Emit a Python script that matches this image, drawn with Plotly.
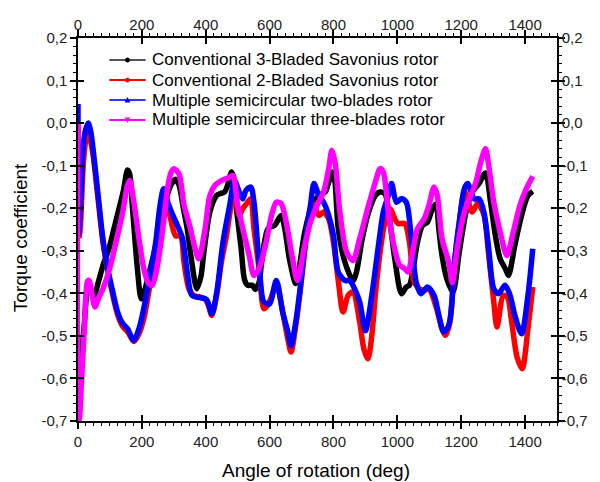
import plotly.graph_objects as go

# ---- data ----
black_x = [0, 2, 5, 10, 20, 27, 35, 50, 65, 80, 97, 112, 127, 142, 155, 162, 170, 186, 198, 210, 220, 240, 260, 281, 291, 305, 316, 330, 342, 355, 372, 385, 393, 413, 434, 444, 459, 470, 481, 488, 495, 511, 521, 531, 546, 555, 567, 575, 595, 616, 636, 648, 662, 682, 695, 708, 733, 754, 774, 785, 798, 805, 815, 836, 861, 872, 890, 910, 931, 946, 961, 977, 992, 1013, 1028, 1038, 1048, 1063, 1079, 1094, 1110, 1121, 1130, 1140, 1155, 1174, 1194, 1215, 1235, 1256, 1276, 1292, 1307, 1322, 1338, 1348, 1368, 1389, 1409, 1424]
black_y = [-0.70, -0.70, -0.63, -0.56, -0.47, -0.405, -0.385, -0.405, -0.37, -0.33, -0.295, -0.25, -0.205, -0.16, -0.11, -0.12, -0.193, -0.342, -0.413, -0.39, -0.36, -0.30, -0.23, -0.166, -0.146, -0.132, -0.145, -0.20, -0.248, -0.32, -0.389, -0.36, -0.311, -0.209, -0.17, -0.166, -0.162, -0.142, -0.115, -0.13, -0.193, -0.295, -0.366, -0.381, -0.381, -0.391, -0.374, -0.327, -0.248, -0.24, -0.217, -0.25, -0.319, -0.377, -0.33, -0.264, -0.193, -0.17, -0.162, -0.139, -0.115, -0.14, -0.248, -0.327, -0.370, -0.35, -0.272, -0.209, -0.17, -0.162, -0.166, -0.233, -0.319, -0.401, -0.385, -0.381, -0.35, -0.28, -0.24, -0.233, -0.201, -0.19, -0.25, -0.311, -0.366, -0.397, -0.303, -0.209, -0.162, -0.142, -0.117, -0.186, -0.264, -0.319, -0.342, -0.358, -0.287, -0.217, -0.17, -0.16]

red_x = [3, 7, 12, 17, 25, 30, 40, 48, 63, 78, 94, 109, 124, 140, 155, 165, 175, 191, 206, 221, 242, 257, 270, 277, 287, 296, 306, 321, 332, 347, 362, 383, 398, 408, 419, 434, 449, 465, 480, 490, 505, 516, 531, 541, 551, 567, 582, 592, 605, 621, 641, 657, 667, 682, 698, 713, 728, 738, 754, 769, 785, 800, 815, 830, 846, 861, 882, 895, 908, 920, 931, 946, 961, 977, 992, 1002, 1023, 1038, 1053, 1069, 1084, 1099, 1120, 1140, 1150, 1164, 1179, 1194, 1210, 1220, 1235, 1251, 1271, 1286, 1302, 1312, 1332, 1345, 1358, 1375, 1391, 1409, 1424]
red_y = [-0.27, -0.25, -0.17, -0.092, -0.037, -0.025, -0.045, -0.08, -0.18, -0.28, -0.35, -0.405, -0.45, -0.478, -0.49, -0.503, -0.513, -0.495, -0.46, -0.40, -0.31, -0.235, -0.20, -0.197, -0.215, -0.245, -0.265, -0.265, -0.327, -0.389, -0.405, -0.409, -0.413, -0.428, -0.452, -0.405, -0.327, -0.264, -0.193, -0.17, -0.217, -0.201, -0.186, -0.178, -0.248, -0.342, -0.436, -0.43, -0.41, -0.375, -0.444, -0.507, -0.538, -0.475, -0.38, -0.28, -0.20, -0.19, -0.217, -0.209, -0.225, -0.28, -0.37, -0.444, -0.405, -0.397, -0.467, -0.53, -0.554, -0.50, -0.405, -0.303, -0.233, -0.201, -0.225, -0.236, -0.236, -0.28, -0.374, -0.389, -0.393, -0.39, -0.428, -0.483, -0.499, -0.47, -0.33, -0.233, -0.16, -0.18, -0.209, -0.189, -0.215, -0.31, -0.42, -0.479, -0.405, -0.41, -0.467, -0.55, -0.577, -0.483, -0.385]

blue_x = [0, 2, 9, 15, 22, 32, 40, 47, 63, 78, 93, 109, 124, 140, 155, 165, 175, 191, 206, 221, 242, 257, 268, 283, 296, 311, 327, 342, 357, 383, 403, 419, 434, 454, 475, 490, 505, 516, 526, 541, 551, 567, 582, 600, 621, 641, 657, 667, 682, 698, 713, 728, 739, 754, 769, 785, 800, 815, 836, 851, 866, 882, 900, 920, 941, 956, 972, 982, 997, 1013, 1028, 1043, 1059, 1074, 1094, 1115, 1130, 1145, 1161, 1170, 1179, 1194, 1210, 1220, 1241, 1256, 1271, 1286, 1302, 1317, 1337, 1353, 1368, 1389, 1409, 1424]
blue_y = [0.045, -0.26, -0.17, -0.068, -0.021, 0.0, -0.02, -0.06, -0.17, -0.272, -0.342, -0.397, -0.444, -0.471, -0.483, -0.499, -0.511, -0.483, -0.436, -0.374, -0.287, -0.193, -0.154, -0.19, -0.215, -0.24, -0.27, -0.35, -0.405, -0.41, -0.415, -0.448, -0.40, -0.28, -0.193, -0.135, -0.162, -0.178, -0.158, -0.15, -0.186, -0.327, -0.42, -0.425, -0.37, -0.444, -0.49, -0.523, -0.467, -0.374, -0.272, -0.193, -0.142, -0.17, -0.186, -0.217, -0.264, -0.35, -0.37, -0.37, -0.389, -0.42, -0.488, -0.405, -0.287, -0.209, -0.17, -0.142, -0.186, -0.178, -0.186, -0.264, -0.374, -0.401, -0.385, -0.405, -0.452, -0.491, -0.475, -0.43, -0.327, -0.233, -0.154, -0.142, -0.178, -0.178, -0.209, -0.295, -0.389, -0.401, -0.381, -0.405, -0.452, -0.495, -0.405, -0.295]

mag_x = [0, 1.5, 5, 10, 15, 20, 25, 30, 35, 42, 53, 65, 78, 99, 119, 140, 155, 162, 175, 191, 206, 221, 232, 245, 258, 270, 281, 292, 301, 316, 332, 352, 365, 378, 398, 413, 429, 449, 475, 485, 500, 516, 536, 551, 567, 587, 606, 621, 636, 652, 672, 687, 708, 728, 749, 769, 785, 795, 805, 820, 841, 861, 882, 910, 931, 946, 956, 972, 987, 1007, 1023, 1033, 1048, 1063, 1084, 1099, 1115, 1125, 1140, 1161, 1172, 1189, 1210, 1230, 1246, 1261, 1276, 1286, 1302, 1322, 1343, 1363, 1384, 1404, 1424]
mag_y = [0.0, -0.70, -0.69, -0.62, -0.55, -0.479, -0.40, -0.371, -0.37, -0.395, -0.432, -0.41, -0.389, -0.342, -0.28, -0.209, -0.146, -0.135, -0.186, -0.272, -0.342, -0.377, -0.381, -0.35, -0.29, -0.22, -0.15, -0.115, -0.107, -0.119, -0.193, -0.248, -0.29, -0.319, -0.248, -0.17, -0.146, -0.135, -0.127, -0.123, -0.193, -0.248, -0.311, -0.358, -0.342, -0.287, -0.217, -0.186, -0.189, -0.233, -0.319, -0.37, -0.295, -0.233, -0.193, -0.162, -0.107, -0.064, -0.092, -0.209, -0.303, -0.323, -0.272, -0.193, -0.139, -0.107, -0.115, -0.209, -0.28, -0.334, -0.342, -0.35, -0.303, -0.248, -0.225, -0.193, -0.150, -0.17, -0.272, -0.327, -0.375, -0.287, -0.209, -0.17, -0.139, -0.092, -0.06, -0.099, -0.186, -0.256, -0.311, -0.256, -0.193, -0.154, -0.125]

names = ["Conventional 3-Bladed Savonius rotor",
         "Conventional 2-Bladed Savonius rotor",
         "Multiple semicircular two-blades rotor",
         "Multiple semicircular three-blades rotor"]
colors = ["#000000", "#ff0000", "#0000ff", "#ff00ff"]
legend_line_colors = ["#555555", "#ff0000", "#3333ff", "#ff00ff"]
symbols = ["circle", "circle", "triangle-up", "triangle-down"]

x_ticks = [0, 200, 400, 600, 800, 1000, 1200, 1400]
y_ticks = [-0.7, -0.6, -0.5, -0.4, -0.3, -0.2, -0.1, 0.0, 0.1, 0.2]
y_ticktext = ["-0,7", "-0,6", "-0,5", "-0,4", "-0,3", "-0,2", "-0,1", "0,0", "0,1", "0,2"]
x_title = "Angle of rotation (deg)"
y_title = "Torque coefficient"

FONT = "Arial, Liberation Sans, sans-serif"
W, H = 600, 482
ML, MR, MT, MB = 78, 33, 38, 61
PW, PH = W - ML - MR, H - MT - MB


def px(x):   # pixel x -> paper x
    return (x - ML) / PW


def py(y):   # pixel y -> paper y
    return (H - MB - y) / PH


fig = go.Figure()
series = [(black_x, black_y), (red_x, red_y), (blue_x, blue_y), (mag_x, mag_y)]
for (xs, ys), n, c in zip(series, names, colors):
    fig.add_trace(go.Scatter(
        x=xs, y=ys, name=n, mode="lines", showlegend=False,
        line=dict(color=c, width=5.5, shape="spline", smoothing=0.8),
    ))

# invisible helper so the top/right axes are drawn
fig.add_trace(go.Scatter(x=[], y=[], xaxis="x2", yaxis="y2", showlegend=False))

# ---- hand-built legend (thin sample line + marker + text) ----
shapes = []
annotations = []
for i, (n, c, lc, s) in enumerate(zip(names, colors, legend_line_colors, symbols)):
    yc = 60 + 20 * i
    shapes.append(dict(type="line", xref="paper", yref="paper",
                       x0=px(110), x1=px(147), y0=py(yc), y1=py(yc),
                       line=dict(color=lc, width=2)))
    cx = 128.5
    if s == "circle":
        shapes.append(dict(type="circle", xref="paper", yref="paper",
                           x0=px(cx - 2.5), x1=px(cx + 2.5), y0=py(yc + 2.5), y1=py(yc - 2.5),
                           fillcolor=c, line=dict(color=c, width=0)))
    else:
        if s == "triangle-up":
            pts = [(cx - 3, yc + 2.5), (cx + 3, yc + 2.5), (cx, yc - 3)]
        else:
            pts = [(cx - 3, yc - 2.5), (cx + 3, yc - 2.5), (cx, yc + 3)]
        path = "M " + " L ".join(f"{px(a):.5f},{py(b):.5f}" for a, b in pts) + " Z"
        shapes.append(dict(type="path", xref="paper", yref="paper", path=path,
                           fillcolor=c, line=dict(color=c, width=0)))
    annotations.append(dict(text=n, xref="paper", yref="paper", x=px(152), y=py(yc),
                            xanchor="left", yanchor="middle", showarrow=False,
                            font=dict(family=FONT, size=17, color="black")))

# axis titles (placed where the reference has them)
annotations.append(dict(text=x_title, xref="paper", yref="paper", x=px(321), y=py(470),
                        xanchor="center", yanchor="middle", showarrow=False,
                        font=dict(family=FONT, size=19, color="black")))
annotations.append(dict(text=y_title, xref="paper", yref="paper", x=px(20), y=py(238),
                        xanchor="center", yanchor="middle", showarrow=False, textangle=-90,
                        font=dict(family=FONT, size=19, color="black")))

axis_common = dict(showline=True, linecolor="black", linewidth=1.5, showgrid=False,
                   zeroline=False, tickcolor="black", tickwidth=1.5,
                   tickfont=dict(family=FONT, size=15, color="#222"))

fig.update_layout(
    width=W, height=H,
    margin=dict(l=ML, r=MR, t=MT, b=MB),
    paper_bgcolor="white", plot_bgcolor="white",
    font=dict(family=FONT, size=15, color="black"),
    showlegend=False,
    shapes=shapes, annotations=annotations,
    xaxis=dict(range=[0, 1500], tickvals=x_ticks, ticks="outside", ticklen=6, mirror="ticks",
               minor=dict(dtick=25, ticks="outside", ticklen=3, tickcolor="black", tickwidth=1),
               **axis_common),
    xaxis2=dict(range=[0, 1500], tickvals=x_ticks, ticks="inside", ticklen=6, mirror="ticks",
                overlaying="x", side="top", anchor="y", **axis_common),
    yaxis=dict(range=[-0.7, 0.2], tickvals=y_ticks, ticktext=y_ticktext, ticks="outside",
               ticklen=6, mirror="ticks",
               minor=dict(dtick=0.02, ticks="outside", ticklen=3, tickcolor="black", tickwidth=1),
               **axis_common),
    yaxis2=dict(range=[-0.7, 0.2], tickvals=y_ticks, ticktext=y_ticktext, ticks="inside",
                ticklen=6, mirror="ticks", overlaying="y", side="right", anchor="x", **axis_common),
)

fig.write_html("out.html")
